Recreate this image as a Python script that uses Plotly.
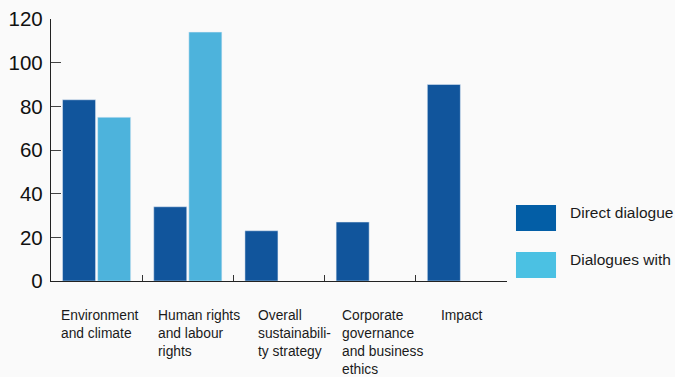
import plotly.graph_objects as go

categories = ["Environment<br>and climate", "Human rights<br>and labour<br>rights",
              "Overall<br>sustainabili-<br>ty strategy", "Corporate<br>governance<br>and business<br>ethics",
              "Impact"]
cat_keys = ["Environment and climate", "Human rights and labour rights",
            "Overall sustainability strategy", "Corporate governance and business ethics", "Impact"]
series_names = ["Direct dialogue", "Dialogues with"]
direct_values = [83, 34, 23, 27, 90]
dialogues_with_values = [75, 114, None, None, None]
y_ticks = [0, 20, 40, 60, 80, 100, 120]

DARK = "#11559c"
LIGHT = "#4db3dc"
LEG_DARK = "#035ea6"
LEG_LIGHT = "#4bc1e3"
BG = "#fafafa"
FONT = "Liberation Sans, Arial, sans-serif"

fig = go.Figure()
fig.add_bar(x=cat_keys, y=direct_values, name=series_names[0], marker_color=DARK, showlegend=False)
fig.add_bar(x=cat_keys, y=dialogues_with_values, name=series_names[1], marker_color=LIGHT, showlegend=False)

# category labels, left aligned
label_shift = [-37.6, -32, -22.7, -30, -22.4]
for key, txt, dx in zip(cat_keys, categories, label_shift):
    fig.add_annotation(x=key, xref="x", y=0, yref="paper", yanchor="top", xanchor="left",
                       xshift=dx, yshift=-25, text=txt, align="left", showarrow=False,
                       font=dict(family=FONT, size=13.8, color="#1a1a1a"))

# legend drawn manually with large swatches
leg = [(series_names[0], LEG_DARK, 0.290, 0.191), (series_names[1], LEG_LIGHT, 0.111, 0.0115)]
for name, col, top, bot in leg:
    fig.add_shape(type="rect", xref="paper", yref="paper", x0=1.0197, x1=1.1075, y0=bot, y1=top,
                  fillcolor=col, line_width=0)
    fig.add_annotation(xref="paper", yref="paper", x=1.134, y=(top + bot) / 2, yshift=5,
                       xanchor="left", yanchor="middle", text=name, showarrow=False,
                       font=dict(family=FONT, size=15.5, color="#1a1a1a"))

fig.update_layout(
    width=675, height=377,
    margin=dict(l=51, r=168, t=19, b=96, autoexpand=False),
    paper_bgcolor=BG, plot_bgcolor=BG,
    barmode="group", bargap=0.23, bargroupgap=0.06,
    font=dict(family=FONT, color="#1a1a1a"),
)
fig.update_xaxes(showticklabels=False, showline=True, linecolor="#222", linewidth=1.3,
                 ticks="inside", ticklen=6, tickcolor="#333", tickwidth=1.2, tickson="boundaries",
                 showgrid=False, zeroline=False, automargin=False)
fig.update_yaxes(range=[0, 120], tickvals=y_ticks, showline=True, linecolor="#222", linewidth=1.3,
                 ticks="inside", ticklen=10, tickcolor="#444", tickwidth=1.3, showgrid=False,
                 zeroline=False, tickfont=dict(family=FONT, size=20.5, color="#111"),
                 ticklabelstandoff=3, automargin=False)

fig.write_html("out.html", config={"displayModeBar": False},
               post_script="document.body.style.margin='0';document.body.style.overflow='hidden';document.body.style.background='%s';" % BG)
